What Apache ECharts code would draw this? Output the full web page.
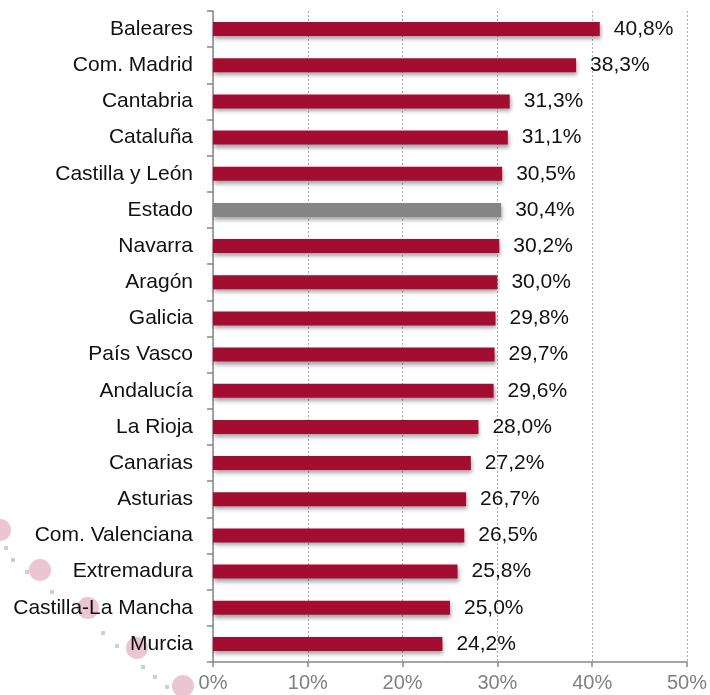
<!DOCTYPE html>
<html>
<head>
<meta charset="utf-8">
<script src="https://cdn.jsdelivr.net/npm/echarts@6/dist/echarts.min.js"></script>
<style>html,body{margin:0;padding:0;background:#fff;}#c{width:710px;height:695px;}</style>
</head>
<body>
<div id="c"></div>
<script>
const categories = ["Baleares","Com. Madrid","Cantabria","Cataluña","Castilla y León","Estado","Navarra","Aragón","Galicia","País Vasco","Andalucía","La Rioja","Canarias","Asturias","Com. Valenciana","Extremadura","Castilla-La Mancha","Murcia"];
const values = [40.8,38.3,31.3,31.1,30.5,30.4,30.2,30.0,29.8,29.7,29.6,28.0,27.2,26.7,26.5,25.8,25.0,24.2];
const highlight = "Estado";
const xTicks = [0,10,20,30,40,50];

const RED = "#a30d32", GRAY = "#858585";
const FONT = 'Liberation Sans, Arial';
const chart = echarts.init(document.getElementById('c'));
const dots = [];
[[0,530],[40,570],[88,608],[137,648],[183,686]].forEach(p=>dots.push({type:'circle',shape:{cx:p[0],cy:p[1],r:11},style:{fill:'rgba(215,140,165,0.5)'},silent:true,z:-1}));
[[13,560],[27,572],[52,592],[103,633],[117,646],[143,667],[155,677],[167,687],[6,548]].forEach(p=>dots.push({type:'rect',shape:{x:p[0]-2,y:p[1]-2,width:4,height:4},style:{fill:'rgba(150,150,150,0.45)'},silent:true,z:-1}));
chart.setOption({
  animation:false,
  graphic: dots,
  grid:{left:213,right:23,top:11,bottom:33,containLabel:false},
  xAxis:{type:'value',min:xTicks[0],max:xTicks[xTicks.length-1],interval:10,
    axisLine:{show:true,lineStyle:{color:'#888',width:1.5}},
    axisTick:{show:true,length:5,lineStyle:{color:'#888',width:1.5}},
    axisLabel:{color:'#808080',fontSize:20,fontFamily:FONT,margin:11,formatter:v=>v+'%'},
    splitLine:{show:true,lineStyle:{color:'#aaa',type:[2,2],width:1}}},
  yAxis:{type:'category',data:categories,inverse:true,
    axisLine:{show:true,lineStyle:{color:'#888',width:1.5}},
    axisTick:{show:true,length:6,lineStyle:{color:'#888',width:1.5}},
    axisLabel:{color:'#111',fontSize:21,fontFamily:FONT,margin:20}},
  series:[{type:'bar',barWidth:14,
    data:values.map((v,i)=>({value:v,itemStyle:{color:categories[i]===highlight?GRAY:RED}})),
    itemStyle:{shadowBlur:4,shadowOffsetY:3,shadowOffsetX:1,shadowColor:'rgba(0,0,0,0.35)'},
    label:{show:true,position:'right',distance:14,color:'#111',fontSize:21,fontFamily:FONT,
      formatter:p=>p.value.toFixed(1).replace('.',',')+'%'}}]
});
</script>
</body>
</html>
